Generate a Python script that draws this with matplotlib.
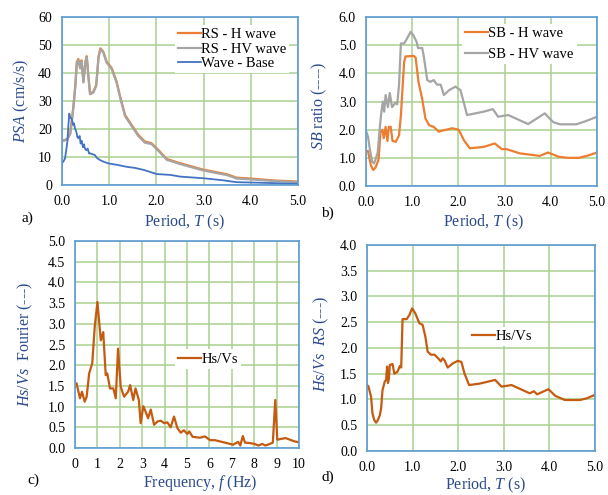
import matplotlib
matplotlib.use("Agg")
import matplotlib.pyplot as plt
from matplotlib.ticker import MultipleLocator, FormatStrFormatter

plt.rcParams['font.family'] = ['Liberation Serif', 'DejaVu Serif']
plt.rcParams['mathtext.fontset'] = 'custom'
plt.rcParams['mathtext.rm'] = 'Liberation Serif'
plt.rcParams['mathtext.it'] = 'Liberation Serif:italic'

# ---------------- Panel a: PSA ----------------
a_T = [0.0, 0.05, 0.12, 0.18, 0.22, 0.25, 0.29, 0.32, 0.35, 0.37, 0.39, 0.42, 0.46, 0.50, 0.53,
       0.57, 0.60, 0.67, 0.73, 0.78, 0.82, 0.88, 0.95, 1.06, 1.16, 1.23, 1.34, 1.48, 1.62,
       1.76, 1.90, 2.08, 2.22, 2.50, 2.99, 3.50, 3.70, 4.00, 4.50, 5.00]
a_rs_h = [15.8, 16.0, 16.5, 18.5, 24.0, 28.5, 36.0, 44.0, 45.0, 43.5, 42.0, 44.5, 37.0, 44.0, 46.0,
          38.0, 32.7, 33.3, 35.7, 46.0, 48.8, 47.6, 44.0, 41.7, 37.0, 32.0, 25.0, 21.4, 17.9,
          15.5, 14.9, 11.9, 9.3, 7.8, 5.5, 3.8, 2.6, 2.3, 1.6, 1.2]
a_rs_hv = [15.6, 15.8, 16.3, 18.2, 23.6, 28.2, 35.6, 43.6, 44.6, 43.1, 41.6, 44.1, 36.6, 43.6, 45.6,
           37.6, 32.4, 33.0, 35.4, 45.6, 48.5, 47.3, 43.7, 41.3, 36.6, 31.6, 24.6, 21.0, 17.5,
           15.1, 14.6, 11.6, 9.0, 7.5, 5.2, 3.5, 2.3, 2.0, 1.4, 1.0]
a_base_T = [0.0, 0.04, 0.07, 0.10, 0.12, 0.14, 0.16, 0.18, 0.21, 0.24, 0.26, 0.28, 0.31, 0.33, 0.35,
            0.38, 0.40, 0.42, 0.45, 0.47, 0.49, 0.52, 0.55, 0.58, 0.60, 0.65, 0.70, 0.75, 0.81,
            0.90, 0.99, 1.20, 1.37, 1.55, 1.73, 2.01, 2.30, 2.50, 3.00, 3.40, 3.70, 4.20, 5.00]
a_base = [7.7, 8.5, 9.5, 13.0, 15.5, 21.0, 25.5, 24.0, 23.8, 21.5, 22.0, 20.2, 19.0, 17.2, 16.7,
          17.5, 14.8, 15.8, 13.5, 14.5, 13.1, 12.4, 13.0, 11.2, 11.3, 11.0, 10.7, 9.6, 8.9,
          8.2, 7.7, 7.1, 6.5, 6.1, 5.4, 3.9, 3.6, 3.0, 2.4, 1.7, 1.0, 0.8, 0.4]

# ---------------- Panel b: SB ratio ----------------
b_h_T = [0.0, 0.05, 0.11, 0.16, 0.21, 0.26, 0.28, 0.32, 0.36, 0.39, 0.43, 0.47, 0.50, 0.54, 0.58,
         0.65, 0.72, 0.76, 0.83, 0.86, 1.04, 1.08, 1.14, 1.22, 1.29, 1.37, 1.47, 1.58, 1.69,
         1.87, 2.01, 2.12, 2.25, 2.55, 2.79, 2.94, 3.04, 3.33, 3.62, 3.76, 3.94, 4.17, 4.37,
         4.60, 4.80, 5.00]
b_h = [1.24, 1.24, 0.74, 0.57, 0.65, 0.86, 0.98, 1.93, 2.00, 1.70, 2.10, 1.60, 2.10, 2.10, 1.60,
       1.57, 1.80, 2.50, 4.40, 4.60, 4.62, 4.55, 3.70, 3.10, 2.40, 2.16, 2.10, 1.93, 1.98,
       2.05, 2.00, 1.63, 1.34, 1.39, 1.51, 1.31, 1.31, 1.16, 1.10, 1.07, 1.19, 1.04, 1.00,
       1.00, 1.08, 1.19]
b_hv_T = [0.0, 0.05, 0.09, 0.14, 0.18, 0.22, 0.26, 0.31, 0.34, 0.37, 0.40, 0.43, 0.48, 0.52, 0.57,
          0.64, 0.68, 0.72, 0.76, 0.83, 0.88, 0.97, 1.03, 1.10, 1.13, 1.22, 1.25, 1.33, 1.40,
          1.47, 1.54, 1.62, 1.69, 1.80, 1.94, 2.05, 2.19, 2.55, 2.75, 2.86, 3.08, 3.51, 3.87,
          4.05, 4.20, 4.55, 4.75, 5.00]
b_hv = [1.99, 1.75, 1.30, 0.86, 0.80, 0.98, 1.20, 2.16, 2.64, 3.00, 2.64, 3.23, 2.80, 3.30, 2.80,
        2.95, 2.90, 3.58, 5.06, 5.06, 5.20, 5.47, 5.35, 5.12, 4.90, 4.90, 4.66, 3.76, 3.70,
        3.76, 3.60, 3.60, 3.23, 3.40, 3.53, 3.40, 2.52, 2.64, 2.73, 2.46, 2.52, 2.20, 2.58,
        2.27, 2.19, 2.19, 2.30, 2.46]

# ---------------- Panel c: Fourier ratio ----------------
c_f = [0.07, 0.22, 0.31, 0.43, 0.52, 0.63, 0.77, 0.88, 1.00, 1.15, 1.26, 1.37, 1.44, 1.56, 1.71,
       1.82, 1.92, 2.04, 2.19, 2.37, 2.46, 2.60, 2.70, 2.85, 2.93, 3.05, 3.15, 3.26, 3.38,
       3.53, 3.68, 3.83, 3.98, 4.12, 4.27, 4.42, 4.57, 4.72, 4.86, 5.01, 5.10, 5.25, 5.58,
       5.80, 6.03, 6.25, 6.47, 6.77, 7.06, 7.28, 7.38, 7.49, 7.59, 7.80, 8.00, 8.20, 8.35,
       8.50, 8.70, 8.83, 8.94, 9.03, 9.20, 9.40, 9.60, 9.80, 10.0]
c_hsvs = [1.56, 1.20, 1.36, 1.12, 1.24, 1.80, 2.05, 2.93, 3.53, 2.60, 2.80, 1.76, 1.80, 1.44, 1.44,
          1.20, 2.40, 1.48, 1.24, 1.36, 1.52, 1.16, 1.44, 1.16, 0.60, 1.01, 0.88, 0.72, 0.93,
          0.56, 0.64, 0.66, 0.60, 0.62, 0.50, 0.76, 0.48, 0.37, 0.43, 0.34, 0.40, 0.27, 0.25,
          0.28, 0.19, 0.19, 0.16, 0.12, 0.08, 0.15, 0.06, 0.29, 0.13, 0.12, 0.10, 0.06, 0.10,
          0.06, 0.10, 0.13, 1.16, 0.20, 0.22, 0.24, 0.20, 0.16, 0.14]

# ---------------- Panel d: RS ratio ----------------
d_T = [0.0, 0.03, 0.09, 0.12, 0.16, 0.20, 0.24, 0.28, 0.31, 0.34, 0.39, 0.42, 0.44, 0.46, 0.48,
       0.50, 0.56, 0.60, 0.67, 0.72, 0.75, 0.78, 0.87, 0.93, 0.99, 1.06, 1.15, 1.22, 1.28,
       1.33, 1.40, 1.48, 1.56, 1.62, 1.66, 1.70, 1.77, 1.88, 1.99, 2.07, 2.14, 2.24, 2.48,
       2.81, 2.95, 3.17, 3.57, 3.66, 3.73, 3.98, 4.13, 4.34, 4.67, 4.81, 5.00]
d_hsvs = [1.28, 1.26, 1.05, 0.73, 0.60, 0.55, 0.60, 0.69, 0.83, 1.18, 1.35, 1.38, 1.64, 1.32, 1.40,
          1.67, 1.69, 1.50, 1.54, 1.65, 1.62, 2.56, 2.56, 2.64, 2.77, 2.67, 2.48, 2.45, 2.22,
          1.93, 1.87, 1.87, 1.80, 1.74, 1.80, 1.76, 1.62, 1.70, 1.75, 1.73, 1.50, 1.28, 1.31,
          1.38, 1.25, 1.28, 1.12, 1.16, 1.10, 1.20, 1.07, 0.99, 0.99, 1.02, 1.09]

GRID = '#a9d18e'
FRAME = '#5b9bd5'
LABEL = '#2b4a8c'
ORANGE = '#ed7d31'
GRAY = '#a5a5a5'
BLUE = '#4472c4'
DARKOR = '#c55a11'

fig = plt.figure(figsize=(6.08, 4.95), dpi=100)

def style(ax, xmax, xstep, ymax, ystep, xfmt, yfmt):
    ax.set_xlim(0, xmax)
    ax.set_ylim(0, ymax)
    ax.xaxis.set_major_locator(MultipleLocator(xstep))
    ax.yaxis.set_major_locator(MultipleLocator(ystep))
    ax.xaxis.set_major_formatter(FormatStrFormatter(xfmt))
    ax.yaxis.set_major_formatter(FormatStrFormatter(yfmt))
    ax.grid(True, color=GRID, linewidth=1.1)
    ax.set_axisbelow(True)
    for s in ax.spines.values():
        s.set_color(FRAME)
        s.set_linewidth(1.2)
    ax.tick_params(length=0, labelsize=10, pad=7)

def labels(ax, xl, yl, xc, yc):
    ax.set_xlabel(xl, fontsize=11.5, color=LABEL)
    ax.set_ylabel(yl, fontsize=11.5, color=LABEL)
    ax.xaxis.label.set_va('center')
    ax.yaxis.label.set_va('center')
    ax.xaxis.set_label_coords(*xc)
    ax.yaxis.set_label_coords(*yc)

def legend(ax, loc, anchor, spacing):
    lg = ax.legend(loc=loc, bbox_to_anchor=anchor, fontsize=10.5, frameon=True,
                   handlelength=1.6, handletextpad=0.0, labelspacing=spacing,
                   borderpad=0.2, borderaxespad=0.2, fancybox=False)
    lg.get_frame().set_facecolor('white')
    lg.get_frame().set_edgecolor('none')
    lg.get_frame().set_alpha(1.0)

# a
axa = fig.add_axes([0.1015, 0.6263, 0.3887, 0.3394])
axa.plot(a_T, a_rs_h, color=ORANGE, lw=1.6, label='RS - H wave')
axa.plot(a_T, a_rs_hv, color=GRAY, lw=1.6, label='RS - HV wave')
axa.plot(a_base_T, a_base, color=BLUE, lw=1.3, label='Wave - Base')
style(axa, 5, 1, 60, 10, '%.1f', '%d')
labels(axa, r'Period, $\mathit{T}$ (s)', r'$\mathit{PSA}$ (cm/s/s)', (0.52, -0.22), (-0.172, 0.5))
legend(axa, 'upper right', (0.975, 0.97), 0.1)

# b
axb = fig.add_axes([0.6015, 0.6242, 0.3805, 0.3414])
axb.plot(b_h_T, b_h, color=ORANGE, lw=1.6, label='SB - H wave')
axb.plot(b_hv_T, b_hv, color=GRAY, lw=1.6, label='SB - HV wave')
style(axb, 5, 1, 6, 1, '%.1f', '%.1f')
labels(axb, r'Period, $\mathit{T}$ (s)', r'$\mathit{SB}$ ratio (----)', (0.51, -0.213), (-0.202, 0.473))
legend(axb, 'upper right', (0.925, 0.975), 0.5)

# c
axc = fig.add_axes([0.1234, 0.0949, 0.3684, 0.4182])
axc.plot(c_f, c_hsvs, color=DARKOR, lw=1.6, label='Hs/Vs')
style(axc, 10, 1, 5, 0.5, '%d', '%.1f')
labels(axc, r'Frequency, $\mathit{f}$ (Hz)', r'$\mathit{Hs/Vs}$  Fourier (---)', (0.56, -0.168), (-0.223, 0.5))
legend(axc, 'center', (0.594, 0.43), 0.2)

# d
axd = fig.add_axes([0.6036, 0.0889, 0.375, 0.4162])
axd.plot(d_T, d_hsvs, color=DARKOR, lw=1.6, label='Hs/Vs')
style(axd, 5, 1, 4, 0.5, '%.1f', '%.1f')
labels(axd, r'Period, $\mathit{T}$ (s)', r'$\mathit{Hs/Vs}$  $\mathit{RS}$ (---)', (0.52, -0.165), (-0.202, 0.52))
legend(axd, 'center', (0.592, 0.555), 0.2)

fig.text(22 / 608, 1 - 218 / 495, 'a)', fontsize=11, va='center', ha='left')
fig.text(321 / 608, 1 - 213 / 495, 'b)', fontsize=11, va='center', ha='left')
fig.text(27 / 608, 1 - 480 / 495, 'c)', fontsize=11, va='center', ha='left')
fig.text(322 / 608, 1 - 477 / 495, 'd)', fontsize=11, va='center', ha='left')

fig.savefig('out.png', dpi=100)
